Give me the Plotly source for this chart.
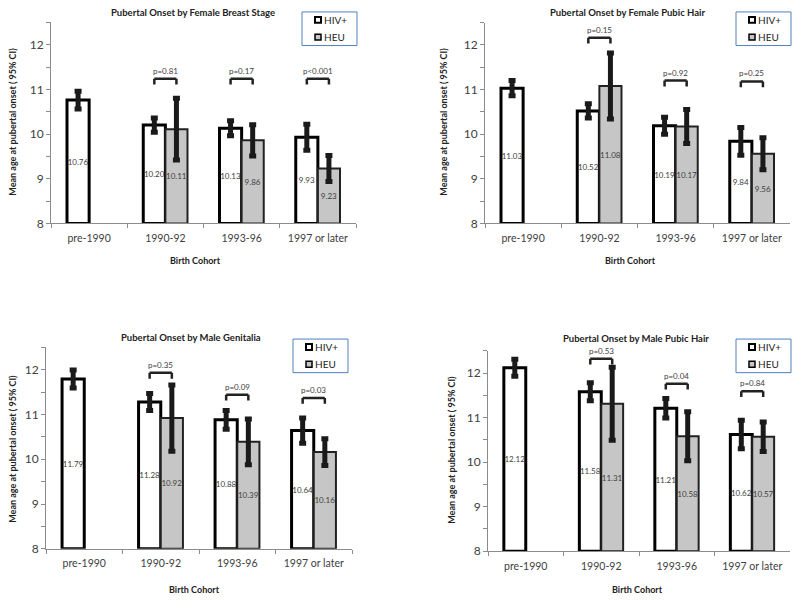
import plotly.graph_objects as go

categories = ["pre-1990", "1990-92", "1993-96", "1997 or later"]

# Female breast stage
breast_hiv = [10.76, 10.20, 10.13, 9.93]
breast_hiv_ci = [0.20, 0.16, 0.17, 0.29]
breast_heu = [None, 10.11, 9.86, 9.23]
breast_heu_ci = [None, 0.69, 0.35, 0.29]
breast_p = ["p=0.81", "p=0.17", "p<0.001"]
breast_p_y = [11.24, 11.24, 11.24]

# Female pubic hair
fpubic_hiv = [11.03, 10.52, 10.19, 9.84]
fpubic_hiv_ci = [0.17, 0.16, 0.19, 0.31]
fpubic_heu = [None, 11.08, 10.17, 9.56]
fpubic_heu_ci = [None, 0.74, 0.38, 0.36]
fpubic_p = ["p=0.15", "p=0.92", "p=0.25"]
fpubic_p_y = [12.16, 11.20, 11.18]

# Male genitalia
genit_hiv = [11.79, 11.28, 10.88, 10.64]
genit_hiv_ci = [0.20, 0.19, 0.21, 0.28]
genit_heu = [None, 10.92, 10.39, 10.16]
genit_heu_ci = [None, 0.74, 0.51, 0.30]
genit_p = ["p=0.35", "p=0.09", "p=0.03"]
genit_p_y = [11.93, 11.44, 11.37]

# Male pubic hair
mpubic_hiv = [12.12, 11.58, 11.21, 10.62]
mpubic_hiv_ci = [0.19, 0.20, 0.22, 0.32]
mpubic_heu = [None, 11.31, 10.58, 10.57]
mpubic_heu_ci = [None, 0.82, 0.55, 0.33]
mpubic_p = ["p=0.53", "p=0.04", "p=0.84"]
mpubic_p_y = [12.32, 11.76, 11.59]

titles = [
    "Pubertal Onset by Female Breast Stage",
    "Pubertal Onset by Female Pubic Hair",
    "Pubertal Onset by Male Genitalia",
    "Pubertal Onset by Male Pubic Hair",
]
series_names = ["HIV+", "HEU"]

# the page body keeps its default 8px margin, so the figure is drawn 8px in
PAGE_MARGIN = 8
W, H = 800 - PAGE_MARGIN, 604 - PAGE_MARGIN
Y_MIN = 8
FONT = "Lato, 'Open Sans', sans-serif"
AXIS_GRAY = "#8c8c8c"
TEXT_GRAY = "#404040"
DARK = "#222222"
HEU_FILL = "#c6c6c6"

# window-pixel boxes of each plot area: (left, right, y_at_8, y_at_12_5)
panels = [
    dict(hiv=breast_hiv, hiv_ci=breast_hiv_ci, heu=breast_heu, heu_ci=breast_heu_ci,
         p=breast_p, p_y=breast_p_y, box=(51, 356, 226, 22.5),
         title_xy=(193, 13), ytitle_xy=(13, 123), xtitle_xy=(195, 263),
         legend_xy=(302, 12)),
    dict(hiv=fpubic_hiv, hiv_ci=fpubic_hiv_ci, heu=fpubic_heu, heu_ci=fpubic_heu_ci,
         p=fpubic_p, p_y=fpubic_p_y, box=(485, 790, 226, 22.7),
         title_xy=(627, 13), ytitle_xy=(444, 123), xtitle_xy=(630, 263),
         legend_xy=(736, 12)),
    dict(hiv=genit_hiv, hiv_ci=genit_hiv_ci, heu=genit_heu, heu_ci=genit_heu_ci,
         p=genit_p, p_y=genit_p_y, box=(46, 352, 555.3, 351.3),
         title_xy=(191, 341), ytitle_xy=(13, 454), xtitle_xy=(194, 596),
         legend_xy=(293, 343)),
    dict(hiv=mpubic_hiv, hiv_ci=mpubic_hiv_ci, heu=mpubic_heu, heu_ci=mpubic_heu_ci,
         p=mpubic_p, p_y=mpubic_p_y, box=(488, 790, 557.7, 354.8),
         title_xy=(636, 342), ytitle_xy=(452, 455), xtitle_xy=(637, 596),
         legend_xy=(736, 343)),
]

BARGAP = 0.42
HALF_BAR = (1 - BARGAP) / 4  # offset of each bar centre from category centre
LEG = 0.13  # bracket leg length (data units)
LEGEND_W, LEGEND_H = 55, 34


def px(x, y):
    """Window pixel position (from top-left) to paper coordinates."""
    return (x - PAGE_MARGIN) / W, 1 - (y - PAGE_MARGIN) / H


def bar_trace(values, ci, name, xa, ya, fill, edge, edge_w):
    heights = [None if v is None else v - Y_MIN for v in values]
    labels = ["" if v is None else f"{v:.2f}" for v in values]
    return go.Bar(
        x=categories, y=heights, base=Y_MIN, name=name, xaxis=xa, yaxis=ya,
        showlegend=False,
        marker=dict(color=fill, line=dict(color=edge, width=edge_w)),
        error_y=dict(type="data", array=ci, thickness=5, width=3.5, color="#1a1a1a"),
        text=labels, texttemplate="%{text}", textposition="inside",
        insidetextanchor="middle", textangle=0, constraintext="none",
        textfont=dict(family=FONT, size=8, color=TEXT_GRAY),
    )


fig = go.Figure()
annotations = []
shapes = []
layout = {}

for k, pnl in enumerate(panels):
    sfx = "" if k == 0 else str(k + 1)
    xa, ya = "x" + sfx, "y" + sfx
    left, right, y8, ytop = pnl["box"]
    dx0, dy0 = px(left, y8)
    dx1, dy1 = px(right, ytop)

    fig.add_trace(bar_trace(pnl["hiv"], pnl["hiv_ci"], "HIV+", xa, ya, "white", "black", 3))
    fig.add_trace(bar_trace(pnl["heu"], pnl["heu_ci"], "HEU", xa, ya, HEU_FILL, DARK, 2))

    layout["xaxis" + sfx] = dict(
        domain=[dx0, dx1], anchor=ya, type="category",
        showline=True, linecolor=AXIS_GRAY, linewidth=1,
        ticks="outside", tickson="boundaries", ticklen=4, tickcolor=AXIS_GRAY,
        ticklabelstandoff=5,
        tickfont=dict(family=FONT, size=10.5, color=TEXT_GRAY),
        showgrid=False, zeroline=False, fixedrange=True,
    )
    layout["yaxis" + sfx] = dict(
        domain=[dy0, dy1], anchor=xa, range=[Y_MIN, 12.5],
        dtick=1, showline=True, linecolor=AXIS_GRAY, linewidth=1,
        ticks="outside", ticklen=4, tickcolor=AXIS_GRAY,
        minor=dict(dtick=0.5, ticks="outside", ticklen=4, tickcolor=AXIS_GRAY),
        tickfont=dict(family=FONT, size=12, color=TEXT_GRAY),
        showgrid=False, zeroline=False, fixedrange=True,
    )

    # titles
    tx, ty = px(*pnl["title_xy"])
    annotations.append(dict(
        text="<b>" + titles[k] + "</b>", x=tx, y=ty, xref="paper", yref="paper",
        xanchor="center", yanchor="middle", showarrow=False,
        font=dict(family=FONT, size=9.5, color=DARK),
    ))
    yx, yy = px(*pnl["ytitle_xy"])
    annotations.append(dict(
        text="<b>Mean age at pubertal onset ( 95% CI)</b>", x=yx, y=yy,
        xref="paper", yref="paper", xanchor="center", yanchor="middle", textangle=-90,
        showarrow=False, font=dict(family=FONT, size=9, color=DARK),
    ))
    bx, by = px(*pnl["xtitle_xy"])
    annotations.append(dict(
        text="<b>Birth Cohort</b>", x=bx, y=by, xref="paper", yref="paper",
        xanchor="center", yanchor="middle", showarrow=False,
        font=dict(family=FONT, size=9, color=DARK),
    ))

    # Excel-style legend box
    lx, ly = pnl["legend_xy"]
    x0, y0 = px(lx, ly)
    x1, y1 = px(lx + LEGEND_W, ly + LEGEND_H)
    shapes.append(dict(type="rect", xref="paper", yref="paper", x0=x0, y0=y1, x1=x1, y1=y0,
                       line=dict(color="#4f81bd", width=1), fillcolor="white"))
    for i, (name, fill, edge_w) in enumerate(zip(series_names, ["white", HEU_FILL], [2, 1.5])):
        cy = ly + 8 + i * 17.5
        sx0, sy0 = px(lx + 13, cy - 3)
        sx1, sy1 = px(lx + 19, cy + 3)
        shapes.append(dict(type="rect", xref="paper", yref="paper",
                           x0=sx0, y0=sy1, x1=sx1, y1=sy0,
                           line=dict(color="black", width=edge_w), fillcolor=fill))
        tx, ty = px(lx + 20, cy)
        annotations.append(dict(
            text=name, x=tx, y=ty, xref="paper", yref="paper", xanchor="left",
            yanchor="middle", showarrow=False, font=dict(family=FONT, size=10, color=DARK),
        ))

    # p-value brackets over the HIV+/HEU pairs
    for j, (ptxt, py) in enumerate(zip(pnl["p"], pnl["p_y"])):
        c = j + 1
        bx0, bx1 = c - HALF_BAR, c + HALF_BAR
        line = dict(color=DARK, width=2.5)
        for sx0, sy0, sx1, sy1 in [(bx0, py - LEG, bx0, py), (bx0, py, bx1, py),
                                   (bx1, py, bx1, py - LEG)]:
            shapes.append(dict(type="line", xref=xa, yref=ya,
                               x0=sx0, y0=sy0, x1=sx1, y1=sy1, line=line))
        annotations.append(dict(
            text=ptxt, x=c, y=py, xref=xa, yref=ya, xanchor="center", yanchor="bottom",
            yshift=1, showarrow=False, font=dict(family=FONT, size=8, color=TEXT_GRAY),
        ))

fig.update_layout(
    width=W, height=H, margin=dict(l=0, r=0, t=0, b=0),
    paper_bgcolor="white", plot_bgcolor="white", showlegend=False,
    barmode="group", bargap=BARGAP, bargroupgap=0,
    annotations=annotations, shapes=shapes, **layout,
)

fig.write_html("out.html")
